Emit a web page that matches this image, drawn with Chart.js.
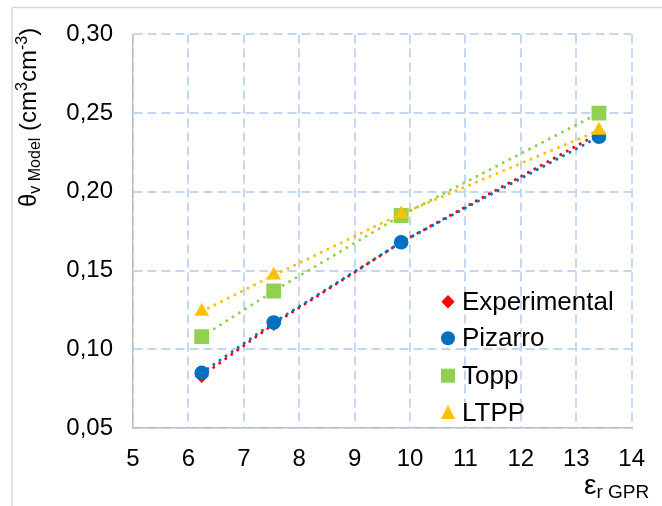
<!DOCTYPE html>
<html>
<head>
<meta charset="utf-8">
<script src="https://cdn.jsdelivr.net/npm/chart.js@4.4.1/dist/chart.umd.min.js"></script>
<style>
  html, body { margin: 0; padding: 0; background: #ffffff; }
  #wrap { position: relative; width: 662px; height: 506px; }
</style>
</head>
<body>
<div id="wrap"><canvas id="c" width="662" height="506"></canvas></div>
<script>
// ---- data ----
const seriesNames = ["Experimental", "Pizarro", "Topp", "LTPP"];
const epsGPR = [6.24, 7.54, 9.84, 13.41];
const experimental = [0.083, 0.116, 0.168, 0.237];
const pizarro = [0.085, 0.117, 0.168, 0.235];
const topp = [0.108, 0.137, 0.185, 0.250];
const ltpp = [0.124, 0.147, 0.186, 0.239];
const xTicks = [5, 6, 7, 8, 9, 10, 11, 12, 13, 14];
const yTicks = [0.05, 0.10, 0.15, 0.20, 0.25, 0.30];

const colors = ["#ff0000", "#0070c0", "#92d050", "#ffc000"];
const styles = ["rectRot", "circle", "rect", "triangle"];
const radii = [7, 7.3, 10.5, 8.5];
const values = [experimental, pizarro, topp, ltpp];

const FONT = "'Liberation Sans', Arial, sans-serif";

const datasets = values.map((vals, i) => ({
  label: seriesNames[i],
  data: vals.map((v, k) => ({ x: epsGPR[k], y: v })),
  showLine: true,
  borderColor: colors[i],
  backgroundColor: colors[i],
  borderWidth: 3,
  borderDash: [0.01, 7.4],
  borderCapStyle: "round",
  pointStyle: styles[i],
  pointRadius: radii[i],
  pointBorderWidth: 0,
  pointBackgroundColor: colors[i],
  pointBorderColor: colors[i],
  order: 4 - i
}));

const frame = {
  id: "frame",
  beforeDraw(chart) {
    const ctx = chart.ctx;
    ctx.save();
    ctx.strokeStyle = "#d9d9d9";
    ctx.lineWidth = 1.5;
    ctx.strokeRect(12, 7.5, 700, 600);
    ctx.restore();
  }
};

function drawRuns(ctx, runs) {
  let x = 0;
  for (const r of runs) {
    ctx.font = r.size + "px " + FONT;
    ctx.fillText(r.t, x, r.dy || 0);
    x += ctx.measureText(r.t).width;
  }
}

const titles = {
  id: "titles",
  afterDraw(chart) {
    const ctx = chart.ctx;
    ctx.save();
    ctx.fillStyle = "#000000";
    ctx.textBaseline = "alphabetic";
    ctx.textAlign = "left";
    // y axis title (rotated)
    ctx.save();
    ctx.translate(36, 207);
    ctx.rotate(-Math.PI / 2);
    drawRuns(ctx, [
      { t: "θ", size: 24 },
      { t: "v Model", size: 16, dy: 4 },
      { t: " (cm", size: 24 },
      { t: "3", size: 16, dy: -9 },
      { t: "cm", size: 24 },
      { t: "-3", size: 16, dy: -9 },
      { t: ")", size: 24 }
    ]);
    ctx.restore();
    // x axis title
    ctx.save();
    ctx.translate(584, 494);
    drawRuns(ctx, [
      { t: "ε", size: 28 },
      { t: "r GPR", size: 19, dy: 4 }
    ]);
    ctx.restore();

    // legend
    const lx = 448, tx = 462;
    const rows = [301.7, 338.3, 375.7, 413];
    ctx.font = "26px " + FONT;
    ctx.textBaseline = "middle";
    rows.forEach((y, i) => {
      ctx.fillStyle = colors[i];
      ctx.beginPath();
      if (styles[i] === "rectRot") {
        ctx.moveTo(lx - 6.7, y); ctx.lineTo(lx, y - 6.7); ctx.lineTo(lx + 6.7, y); ctx.lineTo(lx, y + 6.7);
        ctx.closePath();
      } else if (styles[i] === "circle") {
        ctx.arc(lx, y, 7, 0, Math.PI * 2);
      } else if (styles[i] === "rect") {
        ctx.rect(lx - 7, y - 7, 14, 14);
      } else {
        ctx.moveTo(lx, y - 8); ctx.lineTo(lx + 7, y + 6); ctx.lineTo(lx - 7, y + 6);
        ctx.closePath();
      }
      ctx.fill();
      ctx.fillStyle = "#000000";
      ctx.fillText(seriesNames[i], tx, y + 1);
    });
    ctx.restore();
  }
};

new Chart(document.getElementById("c"), {
  type: "scatter",
  data: { datasets },
  plugins: [frame, titles],
  options: {
    responsive: false,
    devicePixelRatio: 1,
    animation: false,
    layout: { padding: { left: 0, top: 33, right: 30, bottom: 0 } },
    plugins: { legend: { display: false }, tooltip: { enabled: false } },
    scales: {
      x: {
        type: "linear",
        min: xTicks[0],
        max: xTicks[xTicks.length - 1],
        afterBuildTicks(scale) { scale.ticks = xTicks.map(v => ({ value: v })); },
        afterFit(scale) { scale.height = 506 - 428; },
        grid: { color: "#c3d8f0", lineWidth: 2, drawTicks: false },
        border: { display: true, color: "#bfbfbf", width: 1.5, dash: [9, 5] },
        ticks: { color: "#000000", font: { family: FONT, size: 24 }, padding: 17, maxRotation: 0 }
      },
      y: {
        type: "linear",
        min: yTicks[0],
        max: yTicks[yTicks.length - 1],
        afterBuildTicks(scale) { scale.ticks = yTicks.map(v => ({ value: v })); },
        afterFit(scale) { scale.width = 133; },
        grid: { color: "#c3d8f0", lineWidth: 2, drawTicks: false },
        border: { display: true, color: "#bfbfbf", width: 1.5, dash: [9, 5] },
        ticks: {
          color: "#000000",
          font: { family: FONT, size: 24 },
          padding: 20,
          callback: v => v.toFixed(2).replace(".", ",")
        }
      }
    }
  }
});
</script>
</body>
</html>
